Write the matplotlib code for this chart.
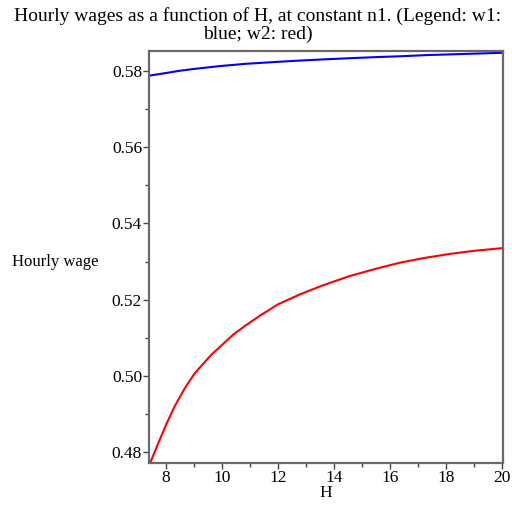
import matplotlib
matplotlib.use("Agg")
import matplotlib.pyplot as plt
from matplotlib.ticker import MultipleLocator

# values
h_w1 = [7.4, 8.0, 8.5, 9.04, 9.9, 10.82, 11.7, 12.6, 13.7, 14.6, 15.6, 16.4, 17.3, 18.2, 19.1, 20.0]
w1 = [0.5787, 0.5794, 0.5800, 0.5805, 0.5812, 0.5818, 0.5822, 0.5826, 0.5830, 0.5833, 0.5836,
      0.5838, 0.5841, 0.5843, 0.5845, 0.5847]

h_w2 = [7.43, 7.72, 8.02, 8.32, 8.68, 9.04, 9.63, 10.4, 10.82, 11.4, 12.01, 12.79, 13.62,
        14.57, 15.5, 16.36, 17.2, 18.14, 19.0, 20.0]
w2 = [0.4770, 0.4822, 0.4874, 0.4921, 0.4968, 0.5008, 0.5056, 0.5108, 0.5131, 0.5160, 0.5188,
      0.5214, 0.5238, 0.5262, 0.5281, 0.5297, 0.5309, 0.5320, 0.5328, 0.5335]

x_ticks = [8, 10, 12, 14, 16, 18, 20]
y_ticks = [0.48, 0.50, 0.52, 0.54, 0.56, 0.58]

title = "Hourly wages as a function of H, at constant n1. (Legend: w1:\nblue; w2: red)"

plt.rcParams["font.family"] = ["Liberation Serif", "DejaVu Serif"]

fig = plt.figure(figsize=(5.12, 5.09), dpi=100)
ax = fig.add_axes([0.291, 0.0904, 0.691, 0.8096])

ax.plot(h_w1, w1, color="#0000ff", lw=1.5, solid_joinstyle="round")
ax.plot(h_w2, w2, color="#ff0000", lw=1.5, solid_joinstyle="round")

ax.set_xlim(7.4, 20.03)
ax.set_ylim(0.4772, 0.5852)
ax.set_xticks(x_ticks)
ax.set_yticks(y_ticks)
ax.set_yticklabels([f"{v:.2f}" for v in y_ticks])
ax.xaxis.set_minor_locator(MultipleLocator(1))
ax.yaxis.set_minor_locator(MultipleLocator(0.01))
ax.tick_params(which="both", direction="out", color="#444444", width=1.0, labelsize=12.5)
ax.tick_params(which="major", length=4, pad=1)
ax.tick_params(which="minor", length=3)
for spine in ax.spines.values():
    spine.set_color("#6a6a6a")
    spine.set_linewidth(1.6)

ax.set_xlabel("H", fontsize=12.5, labelpad=-1)
fig.text(0.023, 0.485, "Hourly wage", fontsize=12, ha="left", va="center")
fig.text(0.504, 0.95, title, fontsize=14, ha="center", va="center", linespacing=1.05)

fig.savefig("out.png", dpi=100)
